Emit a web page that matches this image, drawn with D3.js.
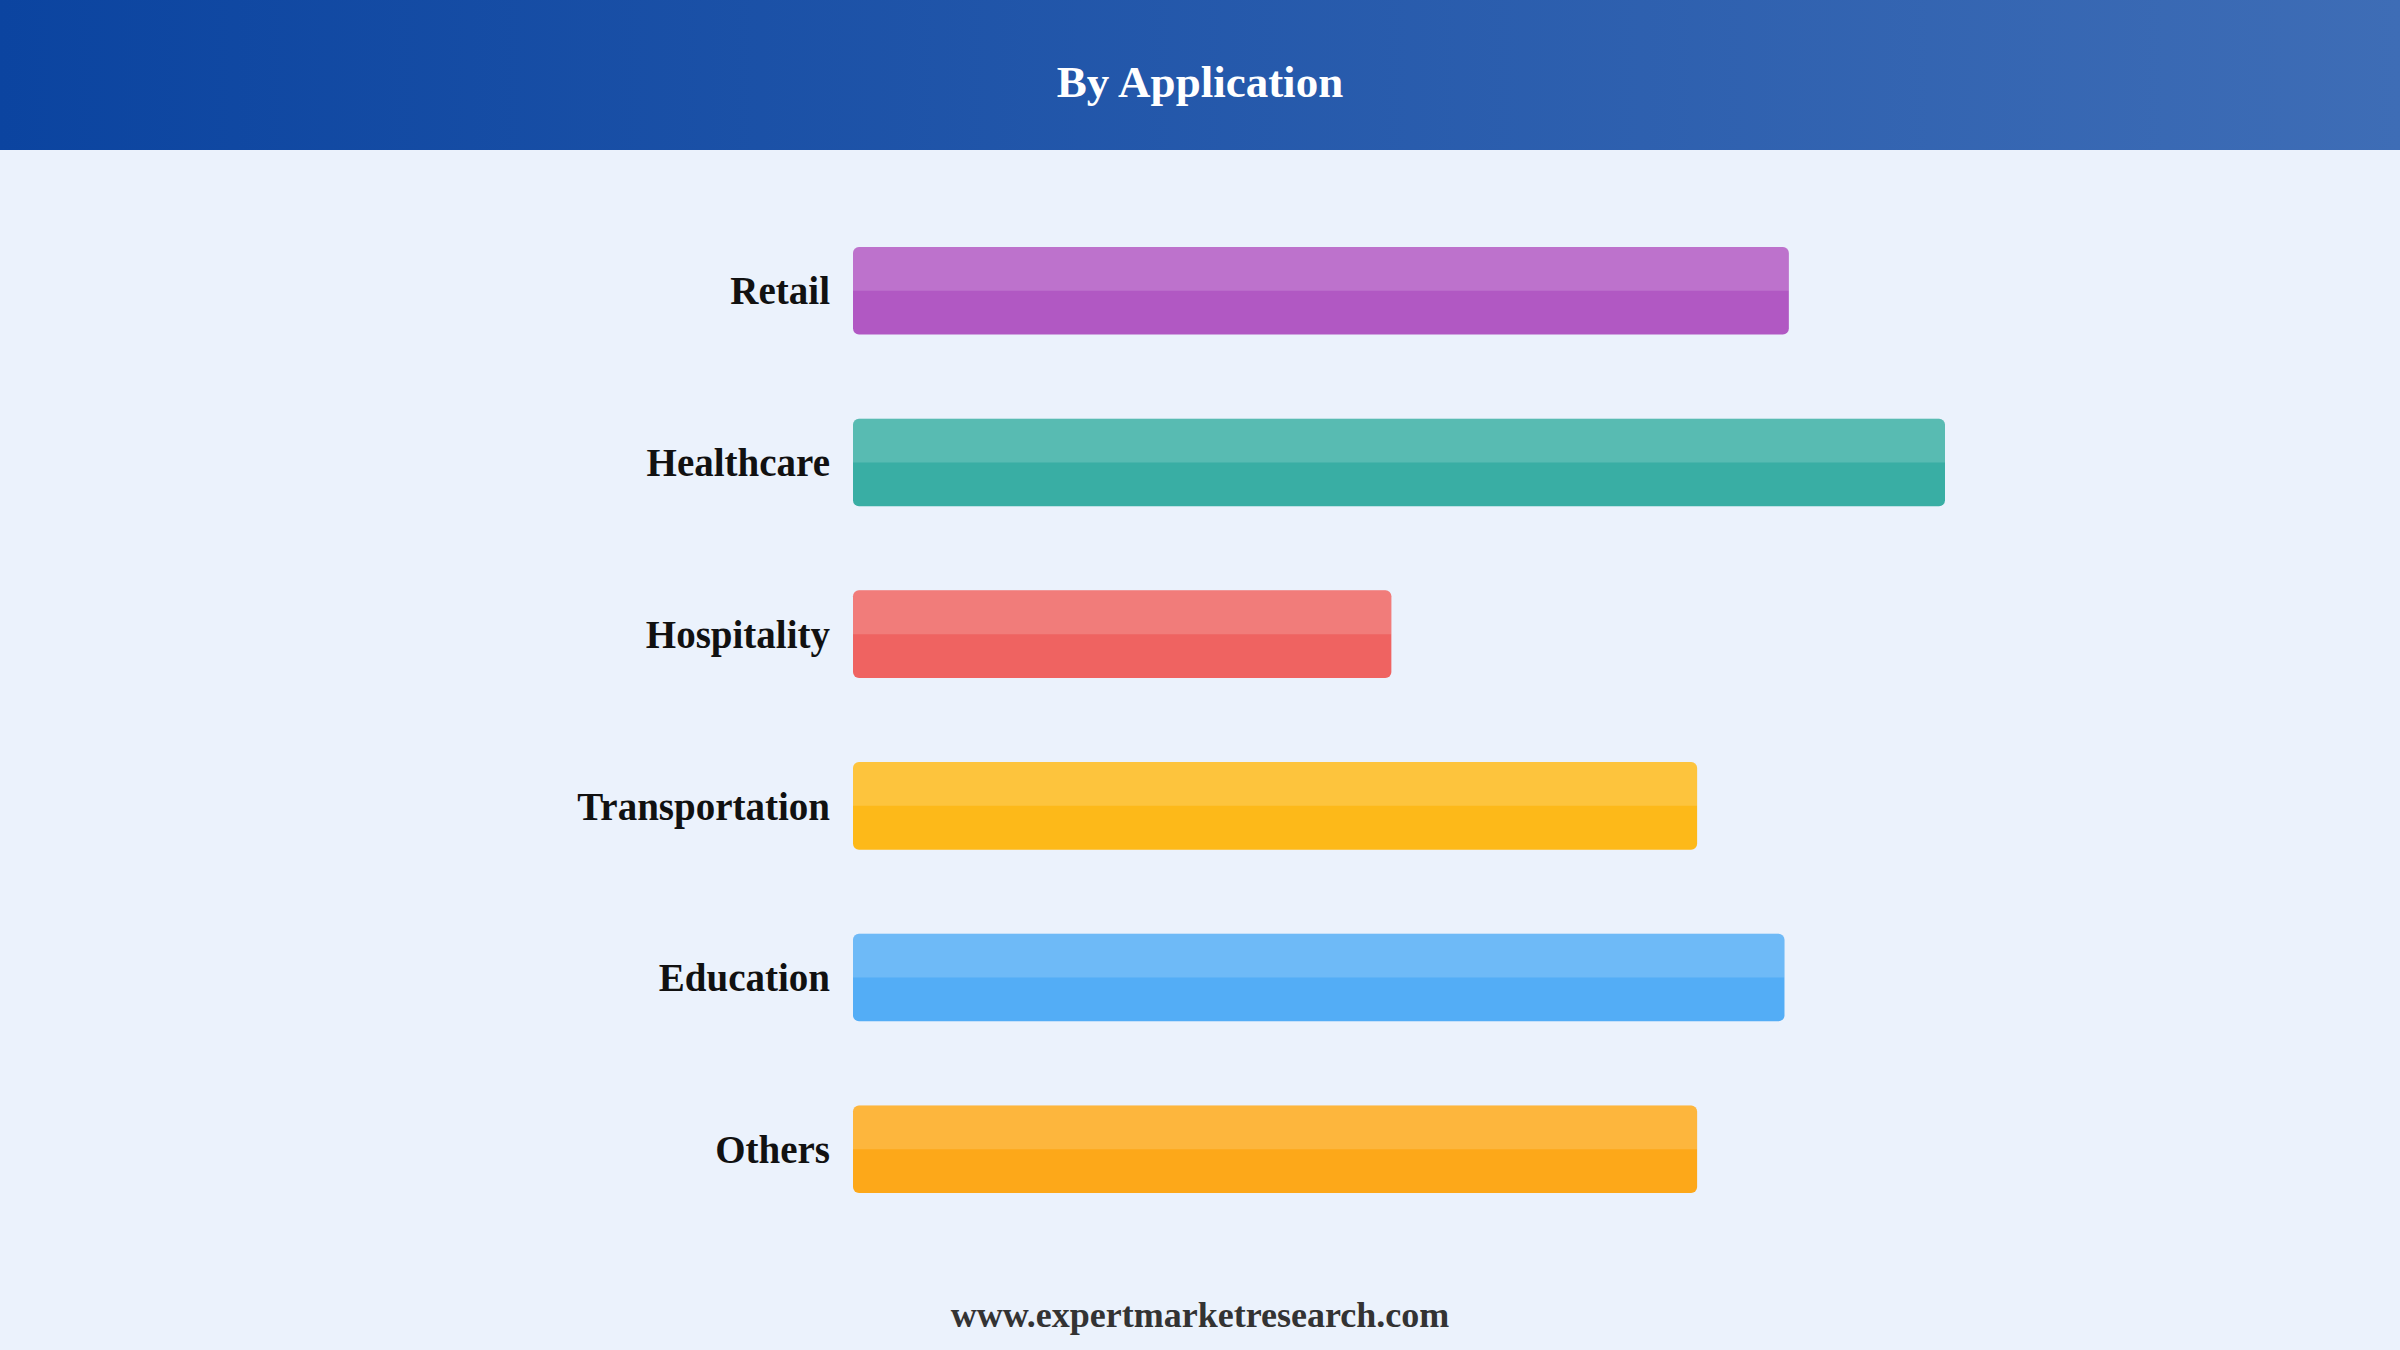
<!DOCTYPE html>
<html><head><meta charset="utf-8">
<script src="https://cdn.jsdelivr.net/npm/d3@7"></script>
<style>html,body{margin:0;padding:0;background:#EBF2FC;}svg{display:block;}</style>
</head><body>
<svg id="chart" width="2400" height="1350"></svg>
<script>
const categories = ["Retail", "Healthcare", "Hospitality", "Transportation", "Education", "Others"];
const values = [85.7, 100, 49.3, 77.3, 85.3, 77.3];
const colors = ["#AB47BC", "#26A69A", "#EF5350", "#FFB300", "#42A5F5", "#FFA000"];
const title = "By Application";
const footer = "www.expertmarketresearch.com";

const svg = d3.select("#chart");
const W = 2400, H = 1350;
const defs = svg.append("defs");
const grad = defs.append("linearGradient").attr("id", "hdr").attr("x1", "0").attr("x2", "1").attr("y1", "0").attr("y2", "0");
grad.append("stop").attr("offset", "0%").attr("stop-color", "#0B44A0");
grad.append("stop").attr("offset", "100%").attr("stop-color", "#3E6DB6");

svg.append("rect").attr("width", W).attr("height", H).attr("fill", "#EBF2FC");
svg.append("rect").attr("width", W).attr("height", 150).attr("fill", "url(#hdr)");
svg.append("text").attr("x", W / 2).attr("y", 81).attr("dy", "0.35em")
  .attr("text-anchor", "middle").attr("fill", "#fff")
  .style("font-family", "'Liberation Serif', 'Times New Roman', serif")
  .style("font-weight", "bold").style("font-size", "45px").text(title);

const x = d3.scaleLinear().domain([0, 100]).range([853, 1945]);
const y = d3.scaleBand().domain(categories).range([204, 1236]).paddingInner(0.49).paddingOuter(0.25);

const g = svg.append("g");
const rows = g.selectAll("g.row").data(categories).enter().append("g").attr("class", "row");
rows.append("rect")
  .attr("x", x(0)).attr("y", d => y(d))
  .attr("width", (d, i) => x(values[i]) - x(0)).attr("height", y.bandwidth())
  .attr("rx", 6).attr("ry", 6)
  .attr("fill", (d, i) => colors[i]).attr("fill-opacity", 0.9);
rows.append("path")
  .attr("d", (d, i) => {
    const x0 = x(0), x1 = x(values[i]), y0 = y(d), h = y.bandwidth() / 2, r = 6;
    return `M${x0},${y0 + h} L${x0},${y0 + r} Q${x0},${y0} ${x0 + r},${y0} L${x1 - r},${y0} Q${x1},${y0} ${x1},${y0 + r} L${x1},${y0 + h} Z`;
  })
  .attr("fill", "#fff").attr("fill-opacity", 0.16);
rows.append("text")
  .attr("x", x(0) - 23).attr("y", d => y(d) + y.bandwidth() / 2).attr("dy", "0.35em")
  .attr("text-anchor", "end").attr("fill", "#111")
  .style("font-family", "'Liberation Serif', 'Times New Roman', serif")
  .style("font-weight", "bold").style("font-size", "39px").text(d => d);

svg.append("text").attr("x", W / 2).attr("y", 1314).attr("dy", "0.35em")
  .attr("text-anchor", "middle").attr("fill", "#333")
  .style("font-family", "'Liberation Serif', 'Times New Roman', serif")
  .style("font-weight", "bold").style("font-size", "36px").text(footer);
</script>
</body></html>
